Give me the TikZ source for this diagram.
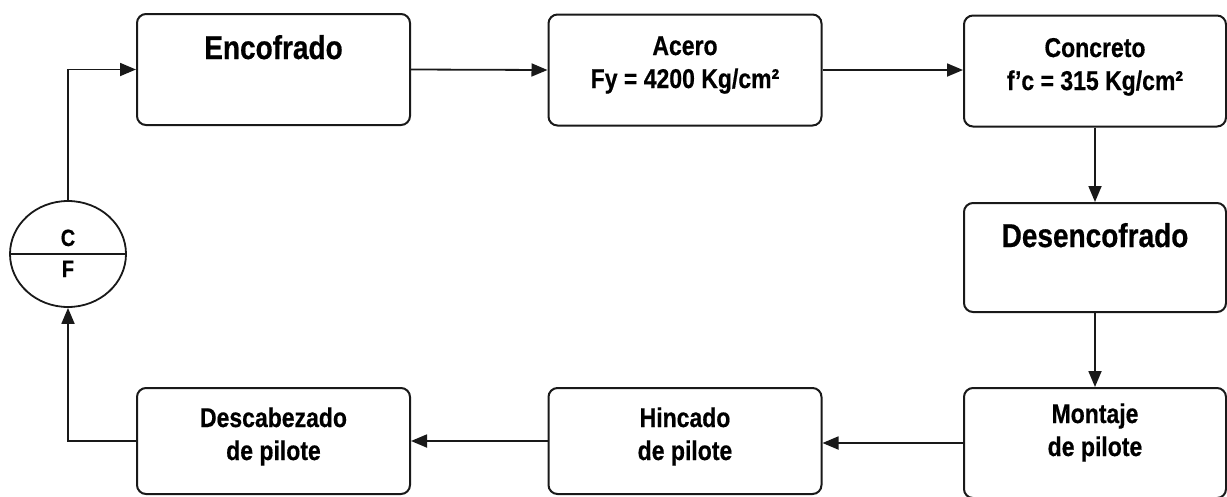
\documentclass[tikz,border=0pt]{standalone}
\usepackage{fontspec}
\usepackage{graphicx}
\setmainfont{Liberation Sans}[BoldFeatures={FakeBold=0.6}]
\usetikzlibrary{arrows.meta,calc,shapes.geometric}
\newcommand{\tallt}[1]{\scalebox{1}[1.18]{#1}}
\tikzset{
  box/.style={draw=black!90, line width=2pt, rounded corners=9pt, fill=white, inner sep=0pt},
  lbl/.style={font=\bfseries\fontsize{23}{26}\selectfont, anchor=base, inner sep=0pt},
  biglbl/.style={font=\bfseries\fontsize{28}{32}\selectfont, anchor=base, inner sep=0pt},
  cflbl/.style={font=\bfseries\fontsize{20}{24}\selectfont, anchor=base, inner sep=0pt},
  conn/.style={draw=black!90, line width=1.8pt, -{Triangle[length=16pt,width=13pt]}},
}
\begin{document}
\begin{tikzpicture}[x=1pt,y=-1pt]
\useasboundingbox (0,0) rectangle (1227,496);
% boxes
\node[box, minimum width=273pt, minimum height=111pt] (Enc) at (273.5,69.5) {};
\node[box, minimum width=273pt, minimum height=111pt] (Ace) at (685,70) {};
\node[box, minimum width=262pt, minimum height=111pt] (Con) at (1095,71) {};
\node[box, minimum width=262pt, minimum height=109pt] (Des) at (1095,257.5) {};
\node[box, minimum width=262pt, minimum height=110pt] (Mon) at (1095,443) {};
\node[box, minimum width=273pt, minimum height=106pt] (Hin) at (685,441) {};
\node[box, minimum width=273pt, minimum height=106pt] (Dca) at (273.5,441) {};
% texts
\node[biglbl] (tEnc) at (273.5,59) {\tallt{Encofrado}};
\node[lbl] (tAce1) at (685,55) {\tallt{Acero}};
\node[lbl] (tAce2) at (685,88) {\tallt{Fy = 4200 Kg/cm²}};
\node[lbl] (tCon1) at (1095,57) {\tallt{Concreto}};
\node[lbl] (tCon2) at (1095,90) {\tallt{f’c = 315 Kg/cm²}};
\node[biglbl] (tDes) at (1095,247) {\tallt{Desencofrado}};
\node[lbl] (tMon1) at (1095,423) {\tallt{Montaje}};
\node[lbl] (tMon2) at (1095,456) {\tallt{de pilote}};
\node[lbl] (tHin1) at (685,427) {\tallt{Hincado}};
\node[lbl] (tHin2) at (685,460) {\tallt{de pilote}};
\node[lbl] (tDca1) at (273.5,427) {\tallt{Descabezado}};
\node[lbl] (tDca2) at (273.5,460) {\tallt{de pilote}};
% C/F circle
\node[draw=black!90, line width=1.8pt, ellipse, minimum width=116pt, minimum height=106pt, inner sep=0pt, fill=white] (CF) at (68,254) {};
\draw[draw=black!90, line width=1.8pt] (CF.west) -- (CF.east);
\node[cflbl] (tC) at (68,246) {\tallt{C}};
\node[cflbl] (tF) at (68,277) {\tallt{F}};
% connectors
\draw[conn] (Enc.east) -- (Ace.west);
\draw[conn] (Ace.east) -- (Ace.east -| Con.west);
\draw[conn] (Con.south) -- (Des.north);
\draw[conn] (Des.south) -- (Mon.north);
\draw[conn] (Mon.west) -- (Mon.west -| Hin.east);
\draw[conn] (Hin.west) -- (Dca.east);
\draw[conn] (Dca.west) -- (Dca.west -| CF.south) -- (CF.south);
\draw[conn] (CF.north) |- (Enc.west);
\end{tikzpicture}
\end{document}
